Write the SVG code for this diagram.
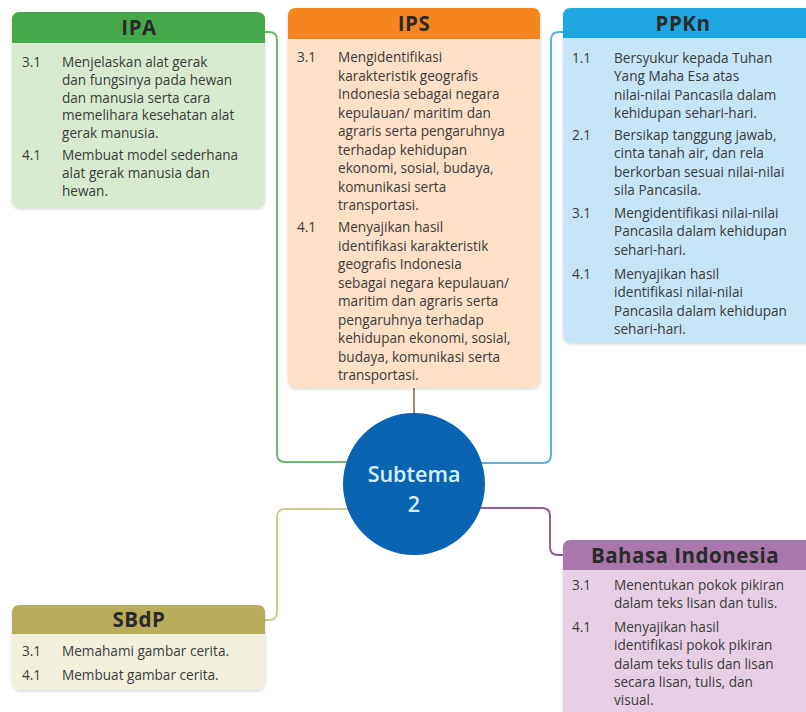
<svg xmlns="http://www.w3.org/2000/svg" width="806" height="712" viewBox="0 0 806 712">
  <defs>
    <filter id="shadow" x="-5%" y="-5%" width="110%" height="110%">
      <feDropShadow dx="0" dy="1" stdDeviation="1.5" flood-color="#000" flood-opacity="0.18"/>
    </filter>
    <style>
      .title { font-family: "Open Sans", "Noto Sans", sans-serif; font-weight: 700; font-size: 20.5px; letter-spacing: 0.5px; text-anchor: middle; fill: #2a2a2a; }
      .item { font-family: "Open Sans", "Noto Sans", sans-serif; font-size: 13.6px; fill: #3b3b3b; }
      .conn { fill: none; stroke-width: 2; }
      .hub { font-family: "Open Sans", "Noto Sans", sans-serif; font-weight: 600; font-size: 21.5px; text-anchor: middle; fill: #d8effb; }
    </style>
  </defs>
  <rect width="806" height="712" fill="#ffffff"/>

  <!-- connectors from each subject to the central circle -->
  <g id="connectors">
    <path class="conn" stroke="#6cb86c" d="M265,32 H269 Q277,32 277,40 V454 Q277,462 285,462 H350"/>
    <path class="conn" stroke="#9c8a72" d="M414,388 V416"/>
    <path class="conn" stroke="#56b4e3" d="M563,32 H559 Q551,32 551,40 V455 Q551,463 543,463 H478"/>
    <path class="conn" stroke="#d2ca8f" d="M265,620 H269 Q277,620 277,612 V517 Q277,509 285,509 H352"/>
    <path class="conn" stroke="#8c6390" d="M476,508 H542 Q550,508 550,516 V547 Q550,555 558,555 H566"/>
  </g>

  <!-- IPA -->
  <g id="ipa">
    <rect x="12" y="12" width="253" height="196" rx="8" fill="#d8ebd0" filter="url(#shadow)"/>
    <path d="M12,43 V20 Q12,12 20,12 H257 Q265,12 265,20 V43 Z" fill="#45a84a"/>
    <text class="title" x="139" y="35" fill="#1f2f1f">IPA</text>
    <text class="item" x="22" y="67">3.1</text>
    <text class="item" x="62" y="67">Menjelaskan alat gerak<tspan x="62" dy="17.8">dan fungsinya pada hewan</tspan><tspan x="62" dy="17.8">dan manusia serta cara</tspan><tspan x="62" dy="17.8">memelihara kesehatan alat</tspan><tspan x="62" dy="17.8">gerak manusia.</tspan></text>
    <text class="item" x="22" y="160">4.1</text>
    <text class="item" x="62" y="160">Membuat model sederhana<tspan x="62" dy="17.8">alat gerak manusia dan</tspan><tspan x="62" dy="17.8">hewan.</tspan></text>
  </g>

  <!-- IPS -->
  <g id="ips">
    <rect x="288" y="8" width="252" height="380" rx="8" fill="#fde0c6" filter="url(#shadow)"/>
    <path d="M288,39 V16 Q288,8 296,8 H532 Q540,8 540,16 V39 Z" fill="#f5861f"/>
    <text class="title" x="414" y="31">IPS</text>
    <text class="item" x="297" y="62">3.1</text>
    <text class="item" x="338" y="62">Mengidentifikasi<tspan x="338" dy="18.5">karakteristik geografis</tspan><tspan x="338" dy="18.5">Indonesia sebagai negara</tspan><tspan x="338" dy="18.5">kepulauan/ maritim dan</tspan><tspan x="338" dy="18.5">agraris serta pengaruhnya</tspan><tspan x="338" dy="18.5">terhadap kehidupan</tspan><tspan x="338" dy="18.5">ekonomi, sosial, budaya,</tspan><tspan x="338" dy="18.5">komunikasi serta</tspan><tspan x="338" dy="18.5">transportasi.</tspan></text>
    <text class="item" x="297" y="232">4.1</text>
    <text class="item" x="338" y="232">Menyajikan hasil<tspan x="338" dy="18.5">identifikasi karakteristik</tspan><tspan x="338" dy="18.5">geografis Indonesia</tspan><tspan x="338" dy="18.5">sebagai negara kepulauan/</tspan><tspan x="338" dy="18.5">maritim dan agraris serta</tspan><tspan x="338" dy="18.5">pengaruhnya terhadap</tspan><tspan x="338" dy="18.5">kehidupan ekonomi, sosial,</tspan><tspan x="338" dy="18.5">budaya, komunikasi serta</tspan><tspan x="338" dy="18.5">transportasi.</tspan></text>
  </g>

  <!-- PPKn -->
  <g id="ppkn">
    <rect x="563" y="8" width="253" height="335" rx="8" fill="#c6e5f7" filter="url(#shadow)"/>
    <path d="M563,38 V16 Q563,8 571,8 H816 V38 Z" fill="#1fa7e2"/>
    <text class="title" x="683" y="31" fill="#1c2f45">PPKn</text>
    <text class="item" x="572" y="63">1.1</text>
    <text class="item" x="614" y="63">Bersyukur kepada Tuhan<tspan x="614" dy="18.3">Yang Maha Esa atas</tspan><tspan x="614" dy="18.3">nilai-nilai Pancasila dalam</tspan><tspan x="614" dy="18.3">kehidupan sehari-hari.</tspan></text>
    <text class="item" x="572" y="140">2.1</text>
    <text class="item" x="614" y="140">Bersikap tanggung jawab,<tspan x="614" dy="18.3">cinta tanah air, dan rela</tspan><tspan x="614" dy="18.3">berkorban sesuai nilai-nilai</tspan><tspan x="614" dy="18.3">sila Pancasila.</tspan></text>
    <text class="item" x="572" y="218">3.1</text>
    <text class="item" x="614" y="218">Mengidentifikasi nilai-nilai<tspan x="614" dy="18.3">Pancasila dalam kehidupan</tspan><tspan x="614" dy="18.3">sehari-hari.</tspan></text>
    <text class="item" x="572" y="279">4.1</text>
    <text class="item" x="614" y="279">Menyajikan hasil<tspan x="614" dy="18.3">identifikasi nilai-nilai</tspan><tspan x="614" dy="18.3">Pancasila dalam kehidupan</tspan><tspan x="614" dy="18.3">sehari-hari.</tspan></text>
  </g>

  <!-- SBdP -->
  <g id="sbdp">
    <rect x="12" y="605" width="253" height="85" rx="8" fill="#f2f0dd" filter="url(#shadow)"/>
    <path d="M12,634 V613 Q12,605 20,605 H257 Q265,605 265,613 V634 Z" fill="#b9ad5c"/>
    <text class="title" x="139" y="627">SBdP</text>
    <text class="item" x="22" y="656">3.1</text>
    <text class="item" x="62" y="656">Memahami gambar cerita.</text>
    <text class="item" x="22" y="680">4.1</text>
    <text class="item" x="62" y="680">Membuat gambar cerita.</text>
  </g>

  <!-- Bahasa Indonesia -->
  <g id="bahasa-indonesia">
    <rect x="563" y="540" width="253" height="180" rx="8" fill="#e7d0e5" filter="url(#shadow)"/>
    <path d="M563,570 V548 Q563,540 571,540 H816 V570 Z" fill="#a877ab"/>
    <text class="title" x="685" y="563" fill="#2e1f33">Bahasa Indonesia</text>
    <text class="item" x="572" y="590">3.1</text>
    <text class="item" x="614" y="590">Menentukan pokok pikiran<tspan x="614" dy="18.3">dalam teks lisan dan tulis.</tspan></text>
    <text class="item" x="572" y="632">4.1</text>
    <text class="item" x="614" y="632">Menyajikan hasil<tspan x="614" dy="18.3">identifikasi pokok pikiran</tspan><tspan x="614" dy="18.3">dalam teks tulis dan lisan</tspan><tspan x="614" dy="18.3">secara lisan, tulis, dan</tspan><tspan x="614" dy="18.3">visual.</tspan></text>
  </g>

  <!-- central hub -->
  <g id="subtema">
    <circle cx="414" cy="484" r="71" fill="#0864b0"/>
    <text class="hub" x="414" y="482">Subtema</text>
    <text class="hub" x="414" y="512">2</text>
  </g>
</svg>
